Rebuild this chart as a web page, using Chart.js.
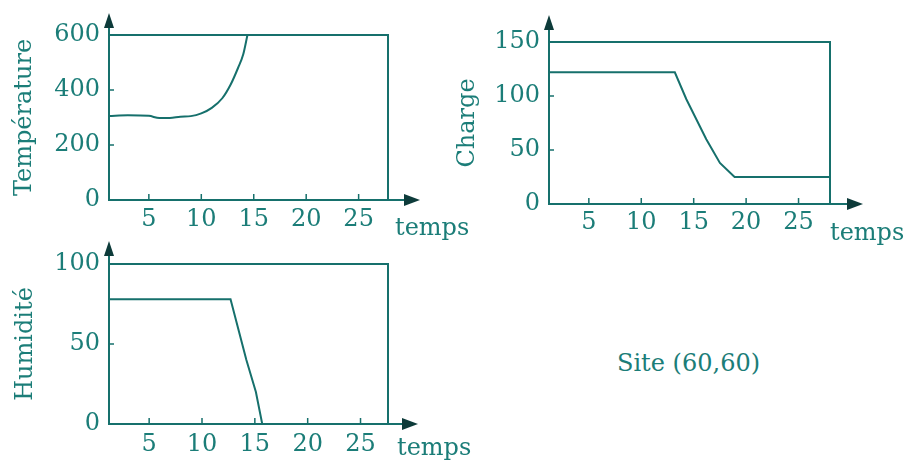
<!DOCTYPE html>
<html>
<head>
<meta charset="utf-8">
<script src="https://cdn.jsdelivr.net/npm/chart.js@4/dist/chart.umd.min.js"></script>
<style>
  html, body { margin: 0; padding: 0; background: #ffffff; }
  body { width: 909px; height: 462px; position: relative; overflow: hidden; }
  canvas { position: absolute; }
  #site { position: absolute; left: 617px; top: 351px; font: 24px "DejaVu Serif", serif; line-height: 24px; color: #1b7d78; white-space: nowrap; }
</style>
</head>
<body>
<canvas id="c1" width="480" height="240" style="left:0;top:0;width:480px;height:240px"></canvas>
<canvas id="c2" width="469" height="250" style="left:440px;top:0;width:469px;height:250px"></canvas>
<canvas id="c3" width="480" height="222" style="left:0;top:240px;width:480px;height:222px"></canvas>
<div id="site">Site (60,60)</div>
<script>
// ---- data ----
const tempTime   = [1.2, 3, 5, 6, 7, 8, 9, 10, 11, 12, 12.8, 13.5, 14, 14.4];
const tempValues = [305, 308, 306, 298, 298, 303, 305, 315, 335, 370, 420, 480, 530, 600];

const chargeTime   = [1.2, 13.2, 14.3, 16.2, 17.5, 18.9, 28];
const chargeValues = [122, 122, 97, 60, 38, 25, 25];

const humTime   = [1.2, 12.7, 14.2, 15.1, 15.7, 27.6];
const humValues = [78, 78, 40, 20, 0, 0];

const xTicks      = [5, 10, 15, 20, 25];
const tempTicks   = [0, 200, 400, 600];
const chargeTicks = [0, 50, 100, 150];
const humTicks    = [0, 50, 100];

const siteLabel = 'Site (60,60)';
const xLabel = 'temps';

// ---- style ----
const LINE = '#16706c';
const TEXT = '#1b7d78';
const ARROW = '#0d3b3a';
const FONT = 'DejaVu Serif';

const framePlugin = {
  id: 'frame',
  afterDatasetsDraw(chart, args, o) {
    const {ctx, chartArea: a, scales: {x, y}} = chart;
    ctx.save();
    ctx.strokeStyle = LINE;
    ctx.lineWidth = 2;
    ctx.strokeRect(a.left, a.top, a.right - a.left, a.bottom - a.top);
    const xTip = a.right + o.ax, yTip = a.top - o.ay;
    ctx.beginPath();
    ctx.moveTo(a.left, a.bottom); ctx.lineTo(xTip - 12, a.bottom);
    ctx.moveTo(a.left, a.bottom); ctx.lineTo(a.left, yTip + 12);
    ctx.stroke();
    // tick marks (inside)
    ctx.lineWidth = 1.5;
    ctx.beginPath();
    x.ticks.forEach(t => { const px = x.getPixelForValue(t.value); ctx.moveTo(px, a.bottom); ctx.lineTo(px, a.bottom - 6); });
    y.ticks.forEach(t => { const py = y.getPixelForValue(t.value); ctx.moveTo(a.left, py); ctx.lineTo(a.left + 5, py); });
    ctx.stroke();
    // arrow heads
    ctx.fillStyle = ARROW;
    ctx.beginPath();
    ctx.moveTo(xTip, a.bottom); ctx.lineTo(xTip - 16, a.bottom - 6); ctx.lineTo(xTip - 16, a.bottom + 6); ctx.closePath();
    ctx.fill();
    ctx.beginPath();
    ctx.moveTo(a.left, yTip); ctx.lineTo(a.left - 5, yTip + 15); ctx.lineTo(a.left + 5, yTip + 15); ctx.closePath();
    ctx.fill();
    // x axis label
    ctx.fillStyle = TEXT;
    ctx.font = '24px "' + FONT + '"';
    ctx.textBaseline = 'alphabetic';
    ctx.textAlign = 'left';
    ctx.fillText(xLabel, a.right + o.tx, a.bottom + o.ty);
    ctx.restore();
  }
};

function makeChart(id, cfg) {
  const pts = cfg.t.map((t, i) => ({x: t, y: cfg.v[i]}));
  return new Chart(document.getElementById(id), {
    type: 'line',
    data: { datasets: [{
      data: pts,
      borderColor: LINE,
      borderWidth: 2,
      pointRadius: 0,
      fill: false,
      cubicInterpolationMode: cfg.smooth ? 'monotone' : 'default',
      tension: 0
    }]},
    options: {
      responsive: false,
      animation: false,
      devicePixelRatio: 1,
      layout: { padding: { left: 0, top: cfg.top, right: cfg.right, bottom: 0 } },
      plugins: {
        legend: { display: false },
        tooltip: { enabled: false },
        frame: cfg.frame
      },
      scales: {
        x: {
          type: 'linear',
          min: cfg.xmin, max: cfg.xmax,
          grid: { display: false, drawTicks: false },
          border: { display: false },
          afterBuildTicks: s => { s.ticks = xTicks.map(v => ({value: v})); },
          afterFit: s => { s.height = cfg.xh; },
          ticks: { color: TEXT, padding: cfg.xpad, font: { family: FONT, size: 24 }, maxRotation: 0 }
        },
        y: {
          type: 'linear',
          min: cfg.yt[0], max: cfg.yt[cfg.yt.length - 1],
          grid: { display: false, drawTicks: false },
          border: { display: false },
          afterBuildTicks: s => { s.ticks = cfg.yt.map(v => ({value: v})); },
          afterFit: s => { s.width = 109; },
          ticks: { color: TEXT, padding: 9, font: { family: FONT, size: 24 } },
          title: { display: true, text: cfg.title, color: TEXT, padding: { top: cfg.tpad, bottom: 0 }, font: { family: FONT, size: 24 } }
        }
      }
    },
    plugins: [framePlugin]
  });
}

makeChart('c1', { t: tempTime, v: tempValues, smooth: true, yt: tempTicks, title: 'Température',
  xmin: 1.2, xmax: 27.8, top: 35, right: 92, xh: 40, xpad: 5, tpad: 10,
  frame: { ax: 32, ay: 22, tx: 7, ty: 35 } });
makeChart('c2', { t: chargeTime, v: chargeValues, smooth: false, yt: chargeTicks, title: 'Charge',
  xmin: 1.2, xmax: 28.0, top: 42, right: 79, xh: 46, xpad: 4, tpad: 13,
  frame: { ax: 33, ay: 27, tx: 0, ty: 36 } });
makeChart('c3', { t: humTime, v: humValues, smooth: false, yt: humTicks, title: 'Humidité',
  xmin: 1.2, xmax: 27.6, top: 24, right: 92, xh: 38, xpad: 6, tpad: 11,
  frame: { ax: 30, ay: 23, tx: 9, ty: 31 } });
</script>
</body>
</html>
